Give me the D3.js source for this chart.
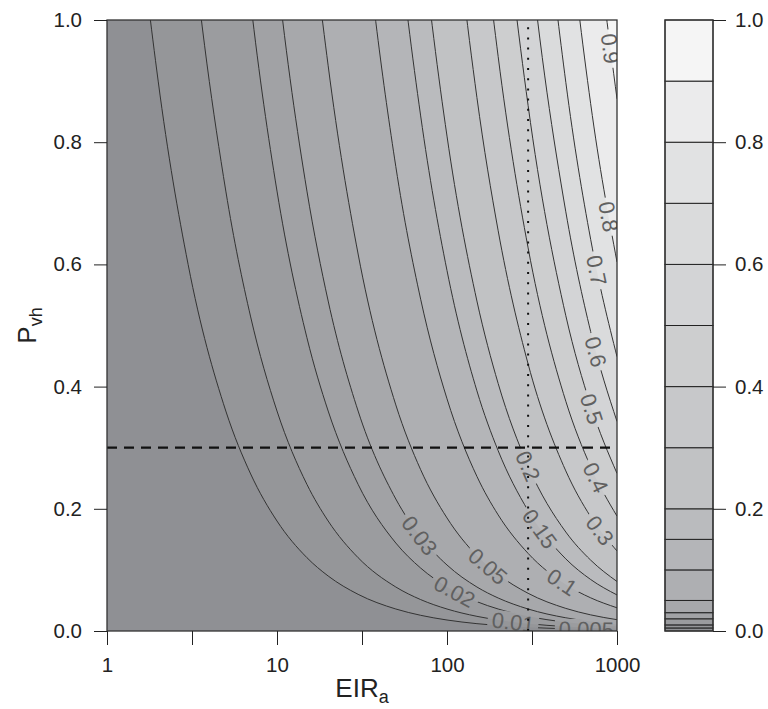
<!DOCTYPE html>
<html>
<head>
<meta charset="utf-8">
<script src="https://cdn.jsdelivr.net/npm/d3@7"></script>
<style>
  body { margin: 0; background: #fff; }
  text { font-family: "Liberation Sans", Arial, Helvetica, sans-serif; }
</style>
</head>
<body>
<div id="chart"></div>
<script>
var eirGrid = [1, 1.5, 2, 3, 5, 7, 10, 15, 20, 30, 50, 70, 100, 150, 200, 300, 500, 700, 1000];

// contour levels
var levels = [0.005, 0.01, 0.02, 0.03, 0.05, 0.1, 0.15, 0.2, 0.3, 0.4, 0.5, 0.6, 0.7, 0.8, 0.9];

// Pvh of each contour at eirGrid (null = far above the top of the plot)
var pvhOnContour = [
  [1.80, 1.20, 0.90, 0.60, 0.36, 0.257, 0.18, 0.12, 0.09, 0.06, 0.036, 0.0257, 0.018, 0.012, 0.009, 0.006, 0.0036, 0.0026, 0.0018],
  [null, 2.40, 1.80, 1.20, 0.72, 0.514, 0.36, 0.24, 0.18, 0.12, 0.072, 0.0514, 0.036, 0.024, 0.018, 0.012, 0.0072, 0.0051, 0.0036],
  [null, null, null, 2.40, 1.44, 1.03, 0.72, 0.48, 0.36, 0.24, 0.144, 0.103, 0.072, 0.048, 0.036, 0.024, 0.0144, 0.0103, 0.0072],
  [null, null, null, null, 2.16, 1.54, 1.08, 0.72, 0.54, 0.36, 0.216, 0.154, 0.108, 0.072, 0.054, 0.036, 0.0216, 0.0154, 0.0108],
  [null, null, null, null, null, 2.64, 1.85, 1.23, 0.925, 0.617, 0.37, 0.264, 0.185, 0.123, 0.0925, 0.0617, 0.037, 0.0264, 0.0185],
  [null, null, null, null, null, null, null, 2.53, 1.90, 1.27, 0.76, 0.543, 0.38, 0.253, 0.19, 0.127, 0.076, 0.0543, 0.038],
  [null, null, null, null, null, null, null, null, 2.95, 1.97, 1.18, 0.843, 0.59, 0.393, 0.295, 0.197, 0.118, 0.0843, 0.059],
  [null, null, null, null, null, null, null, null, null, 2.70, 1.62, 1.16, 0.81, 0.54, 0.405, 0.27, 0.162, 0.116, 0.081],
  [null, null, null, null, null, null, null, null, null, null, 2.62, 1.87, 1.31, 0.873, 0.655, 0.437, 0.262, 0.187, 0.131],
  [null, null, null, null, null, null, null, null, null, null, null, 2.69, 1.88, 1.25, 0.94, 0.627, 0.376, 0.269, 0.188],
  [null, null, null, null, null, null, null, null, null, null, null, null, 2.58, 1.72, 1.29, 0.86, 0.516, 0.369, 0.258],
  [null, null, null, null, null, null, null, null, null, null, null, null, null, 2.29, 1.72, 1.14, 0.686, 0.49, 0.343],
  [null, null, null, null, null, null, null, null, null, null, null, null, null, 2.99, 2.25, 1.50, 0.898, 0.641, 0.449],
  [null, null, null, null, null, null, null, null, null, null, null, null, null, null, 3.02, 2.01, 1.21, 0.863, 0.604],
  [null, null, null, null, null, null, null, null, null, null, null, null, null, null, null, 2.90, 1.74, 1.24, 0.871]
];

// EIR at which each contour label sits
var labelEir = [660, 245, 111, 69, 174, 475, 352, 300, 794, 750, 710, 750, 760, 893, 915];
var labelText = ["0.005", "0.01", "0.02", "0.03", "0.05", "0.1", "0.15", "0.2", "0.3", "0.4", "0.5", "0.6", "0.7", "0.8", "0.9"];

// reference lines
var refEir = 300;
var refPvh = 0.3;

// tick labels
var xTickLabels = ["1", "10", "100", "1000"];
var yTicks = [0, 0.2, 0.4, 0.6, 0.8, 1.0];

// one grey per band, from [0,0.005] up to [0.9,1]
var bandColors = ["#8f9094", "#959699", "#9b9c9f", "#a1a2a5", "#a7a8ab", "#aeafb2", "#b4b5b8", "#babbbe",
                  "#c1c2c4", "#c7c8ca", "#cdcecf", "#d3d4d6", "#dadbdc", "#e1e2e3", "#ebebec", "#f5f5f5"];

var W = 768, H = 709;
var plot = {left: 107, right: 617, top: 20, bottom: 631};
var leg = {left: 665, right: 713};

var x = d3.scaleLog().domain([1, 1000]).range([plot.left, plot.right]);
var y = d3.scaleLinear().domain([0, 1]).range([plot.bottom, plot.top]);

var svg = d3.select("#chart").append("svg")
    .attr("width", W)
    .attr("height", H);
var defs = svg.append("defs");

defs.append("clipPath").attr("id", "plotClip")
  .append("rect")
    .attr("x", plot.left).attr("y", plot.top)
    .attr("width", plot.right - plot.left)
    .attr("height", plot.bottom - plot.top);

var contours = levels.map(function(lev, i) {
  return eirGrid.map(function(e, j) { return [e, pvhOnContour[i][j]]; })
    .filter(function(d) { return d[1] != null; });
});

var line = d3.line()
    .x(function(d) { return x(d[0]); })
    .y(function(d) { return y(d[1]); })
    .curve(d3.curveMonotoneX);

// filled bands: paint each level's upper-right region on top of the last
var fills = svg.append("g").attr("clip-path", "url(#plotClip)");
fills.append("rect")
    .attr("x", plot.left).attr("y", plot.top)
    .attr("width", plot.right - plot.left)
    .attr("height", plot.bottom - plot.top)
    .attr("fill", bandColors[0]);
contours.forEach(function(pts, i) {
  var first = pts[0], last = pts[pts.length - 1];
  fills.append("path")
      .attr("d", line(pts) + "L" + (plot.right + 10) + "," + y(last[1]) +
                 "L" + (plot.right + 10) + "," + y(first[1]) + "Z")
      .attr("fill", bandColors[i + 1]);
});

// contour lines (masked where the labels go)
var mask = defs.append("mask").attr("id", "gapMask")
    .attr("maskUnits", "userSpaceOnUse")
    .attr("x", 0).attr("y", 0).attr("width", W).attr("height", H);
mask.append("rect").attr("width", W).attr("height", H).attr("fill", "#fff");

var lineClip = svg.append("g").attr("clip-path", "url(#plotClip)");
var lineG = lineClip.append("g").attr("mask", "url(#gapMask)");
var labelG = svg.append("g").attr("clip-path", "url(#plotClip)");

contours.forEach(function(pts, i) {
  var path = lineG.append("path")
      .attr("d", line(pts))
      .attr("fill", "none")
      .attr("stroke", "#333")
      .attr("stroke-width", 1);

  var node = path.node();
  var total = node.getTotalLength();
  var tx = x(labelEir[i]);
  var lo = 0, hi = total;
  for (var k = 0; k < 40; k++) {
    var mid = (lo + hi) / 2;
    if (node.getPointAtLength(mid).x < tx) lo = mid; else hi = mid;
  }
  var L = (lo + hi) / 2;
  var p = node.getPointAtLength(L);
  var p1 = node.getPointAtLength(Math.max(0, L - 6));
  var p2 = node.getPointAtLength(Math.min(total, L + 6));
  var ang = Math.atan2(p2.y - p1.y, p2.x - p1.x) * 180 / Math.PI;
  if (ang > 90) ang -= 180;
  if (ang < -90) ang += 180;

  var t = labelG.append("text")
      .attr("transform", "translate(" + p.x + "," + p.y + ") rotate(" + ang + ")")
      .attr("text-anchor", "middle")
      .attr("dy", "0.36em")
      .attr("font-size", 22)
      .attr("fill", "#606060")
      .text(labelText[i]);
  var tw = t.node().getComputedTextLength();
  mask.append("rect")
      .attr("x", -tw / 2 - 4).attr("y", -10)
      .attr("width", tw + 8).attr("height", 20)
      .attr("transform", "translate(" + p.x + "," + p.y + ") rotate(" + ang + ")")
      .attr("fill", "#000");
});

// reference lines
var refG = svg.append("g").attr("clip-path", "url(#plotClip)");
refG.append("line")
    .attr("x1", x(1)).attr("x2", x(1000))
    .attr("y1", y(refPvh)).attr("y2", y(refPvh))
    .attr("stroke", "#111").attr("stroke-width", 2.2)
    .attr("stroke-dasharray", "10,7");
refG.append("line")
    .attr("x1", x(refEir)).attr("x2", x(refEir))
    .attr("y1", y(0)).attr("y2", y(1))
    .attr("stroke", "#111").attr("stroke-width", 2)
    .attr("stroke-dasharray", "2,8.2");

// frame
svg.append("rect")
    .attr("x", plot.left).attr("y", plot.top)
    .attr("width", plot.right - plot.left)
    .attr("height", plot.bottom - plot.top)
    .attr("fill", "none").attr("stroke", "#333").attr("stroke-width", 1.3);

// axes
var xTicks = d3.range(0, 3.01, 0.5).map(function(p) { return Math.pow(10, p); });
var xAxis = d3.axisBottom(x)
    .tickValues(xTicks)
    .tickSize(14)
    .tickSizeOuter(0)
    .tickPadding(12)
    .tickFormat(function(d, i) { return i % 2 == 0 ? xTickLabels[i / 2] : ""; });
var gx = svg.append("g")
    .attr("transform", "translate(0," + plot.bottom + ")")
    .call(xAxis);

var yAxis = d3.axisLeft(y)
    .tickValues(yTicks)
    .tickSize(13)
    .tickSizeOuter(0)
    .tickPadding(12)
    .tickFormat(d3.format(".1f"));
var gy = svg.append("g")
    .attr("transform", "translate(" + plot.left + ",0)")
    .call(yAxis);

// colour key
var legG = svg.append("g");
var bounds = [0].concat(levels).concat([1]);
legG.selectAll("rect.band")
  .data(bandColors)
  .enter().append("rect")
    .attr("class", "band")
    .attr("x", leg.left)
    .attr("width", leg.right - leg.left)
    .attr("y", function(c, i) { return y(bounds[i + 1]); })
    .attr("height", function(c, i) { return y(bounds[i]) - y(bounds[i + 1]); })
    .attr("fill", function(c) { return c; })
    .attr("stroke", "#222")
    .attr("stroke-width", 1);
legG.append("rect")
    .attr("x", leg.left).attr("y", plot.top)
    .attr("width", leg.right - leg.left)
    .attr("height", plot.bottom - plot.top)
    .attr("fill", "none").attr("stroke", "#333").attr("stroke-width", 1.3);

var legAxis = d3.axisRight(y)
    .tickValues(yTicks)
    .tickSize(13)
    .tickSizeOuter(0)
    .tickPadding(9)
    .tickFormat(d3.format(".1f"));
var gl = svg.append("g")
    .attr("transform", "translate(" + leg.right + ",0)")
    .call(legAxis);

[gx, gy, gl].forEach(function(g) {
  g.select(".domain").remove();
  g.selectAll(".tick line").attr("stroke", "#222").attr("stroke-width", 1);
  g.selectAll(".tick text")
      .attr("font-size", 20.5)
      .attr("fill", "#222")
      .style("font-family", "'Liberation Sans', Arial, sans-serif");
});

// axis titles
var xt = svg.append("text")
    .attr("x", (plot.left + plot.right) / 2)
    .attr("y", 697)
    .attr("text-anchor", "middle")
    .attr("font-size", 26)
    .attr("fill", "#222");
xt.append("tspan").text("EIR");
xt.append("tspan").attr("font-size", 18).attr("dy", 6).text("a");

var yt = svg.append("text")
    .attr("transform", "translate(36," + ((plot.top + plot.bottom) / 2) + ") rotate(-90)")
    .attr("text-anchor", "middle")
    .attr("font-size", 26)
    .attr("fill", "#222");
yt.append("tspan").text("P");
yt.append("tspan").attr("font-size", 18).attr("dy", 6).text("vh");
</script>
</body>
</html>
